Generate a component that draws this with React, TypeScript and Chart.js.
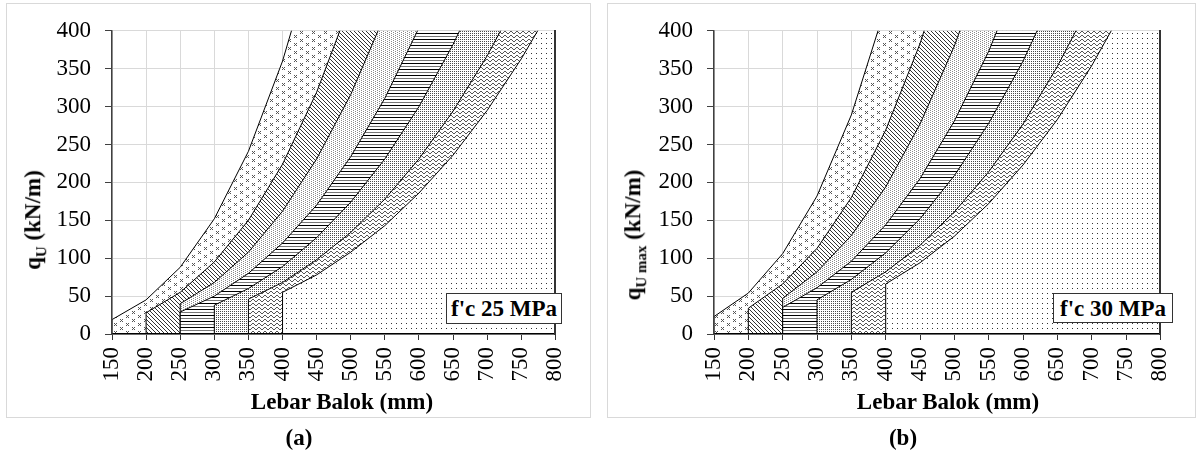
import React, { useEffect, useRef } from "react";
import { Chart, registerables } from "chart.js";

Chart.register(...registerables);

const FONT = '"Liberation Serif", Tinos, "Times New Roman", "DejaVu Serif", serif';

// Beam widths on the x axis (mm)
const widths = [150, 200, 250, 300, 350, 400, 450, 500, 550, 600, 650, 700, 750, 800];
// x tick labels (same as widths)
const xTickLabels = widths.map(String);
// y tick labels (kN/m)
const qTicks = [0, 50, 100, 150, 200, 250, 300, 350, 400];

// width at which each of the seven boundary curves starts
const curveStarts = [150, 200, 250, 250, 300, 350, 400];

// Panel (a): f'c 25 MPa — q_U boundary curves (kN/m), from the start width in steps of 50 mm
const a1 = [19, 45, 88, 152, 241, 360, 513, 704];
const a2 = [28, 55, 95, 150, 224, 319, 438, 582];
const a3 = [40, 68, 108, 162, 231, 316, 421, 546];
const a4 = [29, 50, 80, 120, 170, 234, 311, 404, 514, 641];
const a5 = [38, 60, 89, 127, 174, 231, 300, 382, 477, 586];
const a6 = [46, 68, 98, 134, 178, 231, 294, 367, 451, 548];
const a7 = [55, 78, 108, 143, 186, 236, 295, 363, 440];

// Panel (b): f'c 30 MPa — q_U max boundary curves (kN/m)
const b1 = [23, 54, 106, 182, 289, 432, 616, 845];
const b2 = [34, 66, 113, 180, 269, 383, 525, 699];
const b3 = [47, 82, 130, 194, 277, 380, 505, 656];
const b4 = [35, 61, 96, 144, 205, 281, 373, 485, 616];
const b5 = [45, 72, 107, 152, 209, 278, 360, 458, 572];
const b6 = [55, 82, 117, 161, 214, 277, 353, 440, 542];
const b7 = [66, 94, 129, 172, 223, 283, 354, 435, 528];

const seriesA = [a1, a2, a3, a4, a5, a6, a7];
const seriesB = [b1, b2, b3, b4, b5, b6, b7];

type PatternSpec = { w: number; h: number; px: number[][]; colors: string[] };

const patternSpecs: PatternSpec[] = [
  // small "x" marks, staggered
  {
    w: 12,
    h: 8,
    px: [[0, 0], [2, 0], [1, 1], [0, 2], [2, 2], [6, 4], [8, 4], [7, 5], [6, 6], [8, 6]],
    colors: ["#555"],
  },
  // downward diagonal hatch
  { w: 4, h: 4, px: [[0, 0], [1, 1], [2, 2], [3, 3]], colors: ["#333"] },
  // light dots
  { w: 4, h: 4, px: [[1, 0], [1, 2], [3, 1], [3, 3]], colors: ["#8a8a8a"] },
  // horizontal lines
  { w: 1, h: 6, px: [[0, 0], [0, 3]], colors: ["#000", "#777"] },
  // fine dots
  { w: 2, h: 2, px: [[0, 0]], colors: ["#4a4a4a"] },
  // wave
  { w: 6, h: 4, px: [[0, 0], [1, 0], [2, 1], [3, 2], [4, 2], [5, 1]], colors: ["#555"] },
  // sparse dots
  { w: 5, h: 5, px: [[0, 0]], colors: ["#333"] },
];

function makePattern(spec: PatternSpec): CanvasPattern | string {
  const c = document.createElement("canvas");
  c.width = spec.w;
  c.height = spec.h;
  const g = c.getContext("2d");
  if (!g) return "#fff";
  g.fillStyle = "#fff";
  g.fillRect(0, 0, spec.w, spec.h);
  spec.px.forEach(([x, y], i) => {
    g.fillStyle = spec.colors[Math.min(i, spec.colors.length - 1)];
    g.fillRect(x, y, 1, 1);
  });
  const p = g.createPattern(c, "repeat");
  return p || "#fff";
}

function buildSeries(start: number, values: number[]) {
  const i0 = widths.indexOf(start);
  const pts: { x: number; y: number }[] = [{ x: start, y: 0 }];
  values.forEach((v, i) => pts.push({ x: widths[i0 + i], y: v }));
  return pts;
}

type PanelProps = {
  left: number;
  top: number;
  w: number;
  h: number;
  plotLeft: number;
  plotTop: number;
  plotRight: number;
  plotBottom: number;
  values: number[][];
};

function Panel({ left, top, w, h, plotLeft, plotTop, plotRight, plotBottom, values }: PanelProps) {
  const ref = useRef<HTMLCanvasElement>(null);
  useEffect(() => {
    const canvas = ref.current;
    if (!canvas) return;
    const patterns = patternSpecs.map(makePattern);
    const datasets = values.map((vals, k) => ({
      data: buildSeries(curveStarts[k], vals),
      backgroundColor: patterns[k] as any,
      borderColor: "#000",
      borderWidth: 1,
      pointRadius: 0,
      fill: "origin" as const,
      tension: 0,
      order: values.length - k,
      clip: 0,
    }));
    const chart = new Chart(canvas, {
      type: "line",
      data: { datasets: datasets as any },
      options: {
        responsive: false,
        animation: false,
        devicePixelRatio: 1,
        events: [],
        layout: { padding: { top: plotTop, right: w - plotRight, left: 0, bottom: 0 } },
        plugins: { legend: { display: false }, tooltip: { enabled: false } },
        scales: {
          x: {
            type: "linear",
            min: widths[0],
            max: widths[widths.length - 1],
            afterBuildTicks: (s: any) => {
              s.ticks = widths.map((v) => ({ value: v }));
            },
            ticks: {
              autoSkip: false,
              minRotation: 90,
              maxRotation: 90,
              padding: 7,
              color: "#000",
              font: { family: FONT, size: 23 },
              callback: (v: any) => xTickLabels[widths.indexOf(Number(v))] ?? String(v),
            },
            grid: { color: "#d9d9d9", lineWidth: 1, tickColor: "#333", tickLength: 6 },
            border: { color: "#000", width: 1.5, z: 1 },
            afterFit: (s: any) => {
              s.height = h - plotBottom;
            },
          },
          y: {
            type: "linear",
            min: qTicks[0],
            max: qTicks[qTicks.length - 1],
            afterBuildTicks: (s: any) => {
              s.ticks = qTicks.map((v) => ({ value: v }));
            },
            ticks: {
              padding: 14,
              color: "#000",
              font: { family: FONT, size: 23 },
            },
            grid: { color: "#d9d9d9", lineWidth: 1, tickColor: "#404040", tickLength: 7 },
            border: { color: "#404040", width: 1.5, z: 1 },
            afterFit: (s: any) => {
              s.width = plotLeft;
            },
          },
          yr: {
            type: "linear",
            position: "right",
            min: qTicks[0],
            max: qTicks[qTicks.length - 1],
            ticks: { display: false },
            grid: { display: false, drawTicks: false },
            border: { display: true, color: "#333", width: 2, z: 1 },
            afterFit: (s: any) => {
              s.width = 0;
            },
          },
        },
      } as any,
    });
    return () => chart.destroy();
  }, []);
  return (
    <canvas
      ref={ref}
      width={w}
      height={h}
      style={{ position: "absolute", left, top, width: w, height: h }}
    />
  );
}

const textBase: React.CSSProperties = {
  position: "absolute",
  fontFamily: FONT,
  fontWeight: "bold",
  fontSize: 23,
  color: "#000",
  whiteSpace: "nowrap",
  lineHeight: 1,
};

const boxStyle: React.CSSProperties = {
  ...textBase,
  border: "1.5px solid #333",
  background: "#fff",
  boxSizing: "border-box",
  display: "flex",
  alignItems: "center",
  justifyContent: "center",
};

export default function App() {
  return (
    <div
      style={{
        position: "fixed",
        left: 0,
        top: 0,
        width: 1200,
        height: 454,
        background: "#fff",
        overflow: "hidden",
        fontFamily: FONT,
      }}
    >
      {/* panel frames */}
      <div style={{ position: "absolute", left: 6, top: 3, width: 585, height: 415, border: "1px solid #d9d9d9", boxSizing: "border-box" }} />
      <div style={{ position: "absolute", left: 607, top: 3, width: 589, height: 415, border: "1px solid #d9d9d9", boxSizing: "border-box" }} />

      <Panel left={6} top={3} w={584} h={414} plotLeft={106} plotTop={20} plotRight={566} plotBottom={331} values={seriesA} />
      <Panel left={607} top={3} w={588} h={414} plotLeft={107} plotTop={20} plotRight={576} plotBottom={331} values={seriesB} />

      {/* axis titles */}
      <div style={{ ...textBase, left: 35, top: 220, transform: "translate(-50%,-50%) rotate(-90deg)" }}>
        q<sub style={{ fontSize: "65%" }}>U</sub> (kN/m)
      </div>
      <div style={{ ...textBase, left: 635, top: 235, transform: "translate(-50%,-50%) rotate(-90deg)" }}>
        q<sub style={{ fontSize: "65%" }}>U max</sub> (kN/m)
      </div>
      <div style={{ ...textBase, left: 342, top: 401, transform: "translate(-50%,-50%)" }}>Lebar Balok (mm)</div>
      <div style={{ ...textBase, left: 948, top: 401, transform: "translate(-50%,-50%)" }}>Lebar Balok (mm)</div>

      {/* f'c boxes */}
      <div style={{ ...boxStyle, left: 446, top: 293, width: 116, height: 31 }}>f'c 25 MPa</div>
      <div style={{ ...boxStyle, left: 1053, top: 293, width: 120, height: 30 }}>f'c 30 MPa</div>

      {/* sub-figure labels */}
      <div style={{ ...textBase, left: 299, top: 437, transform: "translate(-50%,-50%)" }}>(a)</div>
      <div style={{ ...textBase, left: 903, top: 437, transform: "translate(-50%,-50%)" }}>(b)</div>
    </div>
  );
}
